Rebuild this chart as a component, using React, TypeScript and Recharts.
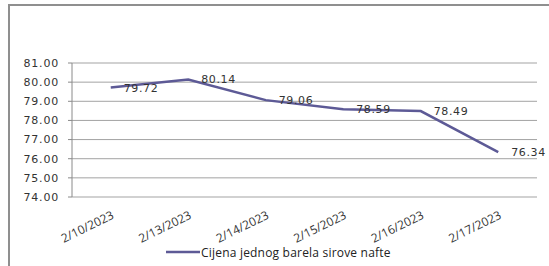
import { LineChart, Line, XAxis, YAxis, CartesianGrid, Legend, LabelList } from "recharts";

const dates = ["2/10/2023", "2/13/2023", "2/14/2023", "2/15/2023", "2/16/2023", "2/17/2023"];
const prices = [79.72, 80.14, 79.06, 78.59, 78.49, 76.34];
const priceTicks = [74, 75, 76, 77, 78, 79, 80, 81];
const boundaryTicks = [0, 1, 2, 3, 4, 5, 6];
const seriesName = "Cijena jednog barela sirove nafte";

const data = dates.map((d, i) => ({ date: d, price: prices[i] }));

const lineColor = "#5d5a96";
const axisColor = "#8a8a8a";
const gridColor = "#a3a3a3";

function DateTick({ x, y, payload }: any) {
  return (
    <g transform={`translate(${x + 4},${y + 21})`}>
      <text textAnchor="end" transform="rotate(-26)" fontFamily="Open Sans" fontSize={12} fill="#333">
        {payload.value}
      </text>
    </g>
  );
}

function PriceLabel({ x, y, value }: any) {
  return (
    <text x={x + 13} y={y + 4} fontFamily="DejaVu Sans" fontSize={11} letterSpacing={0.6} fill="#333">
      {Number(value).toFixed(2)}
    </text>
  );
}

const renderLegend = () => (
  <div style={{ display: "flex", alignItems: "center", height: 24 }}>
    <svg width={34} height={4}>
      <line x1={0} x2={34} y1={2} y2={2} stroke={lineColor} strokeWidth={2.5} />
    </svg>
    <span style={{ fontFamily: "Open Sans", fontSize: 12, letterSpacing: 0.2, color: "#222", marginLeft: 1 }}>
      {seriesName}
    </span>
  </div>
);

export default function App() {
  return (
    <div style={{ position: "absolute", left: 0, top: 0, width: 549, height: 266, overflow: "hidden", background: "#fff" }}>
      <div style={{ position: "absolute", left: 8, top: 4, width: 600, height: 300, border: "2px solid #8f8f8f" }} />
      <div style={{ position: "absolute", left: 0, top: 0 }}>
        <LineChart width={549} height={266} data={data} margin={{ top: 63, right: 12, left: 0, bottom: 2 }}>
          <CartesianGrid vertical={false} stroke={gridColor} />
          <XAxis
            xAxisId="edges"
            type="number"
            domain={[0, 6]}
            ticks={boundaryTicks}
            height={0}
            tick={false}
            tickSize={5}
            axisLine={{ stroke: axisColor }}
            tickLine={{ stroke: axisColor }}
          />
          <XAxis
            dataKey="date"
            scale="band"
            height={43}
            interval={0}
            axisLine={false}
            tickLine={false}
            tickSize={0}
            tickMargin={0}
            tick={<DateTick />}
          />
          <YAxis
            domain={[74, 81]}
            ticks={priceTicks}
            interval={0}
            width={72}
            tickSize={4}
            tickMargin={9}
            tickFormatter={(v: number) => v.toFixed(2)}
            axisLine={{ stroke: axisColor }}
            tickLine={{ stroke: axisColor }}
            tick={{ fontFamily: "DejaVu Sans", fontSize: 11, fill: "#333", letterSpacing: 0.8 }}
          />
          <Legend content={renderLegend} wrapperStyle={{ left: 166, bottom: 2, width: 260, height: 24 }} />
          <Line
            type="linear"
            dataKey="price"
            name={seriesName}
            stroke={lineColor}
            strokeWidth={2.5}
            dot={false}
            isAnimationActive={false}
          >
            <LabelList dataKey="price" content={<PriceLabel />} />
          </Line>
        </LineChart>
      </div>
    </div>
  );
}
